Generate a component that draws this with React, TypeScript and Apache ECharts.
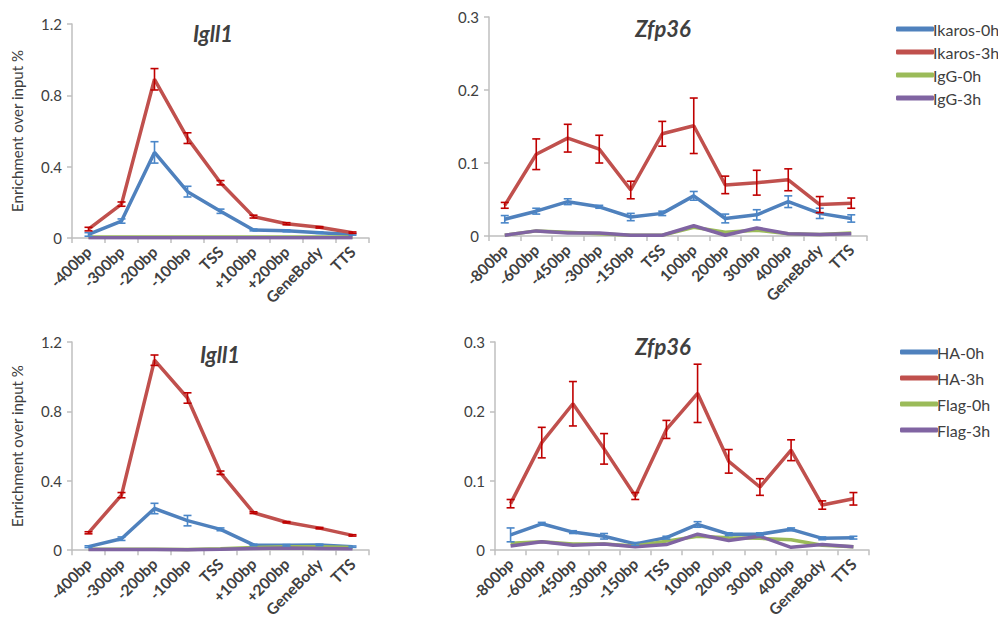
import React, { useEffect, useRef } from "react";
import * as echarts from "echarts";

const igllCats = ["-400bp", "-300bp", "-200bp", "-100bp", "TSS", "+100bp", "+200bp", "GeneBody", "TTS"];
const zfpCats = ["-800bp", "-600bp", "-450bp", "-300bp", "-150bp", "TSS", "100bp", "200bp", "300bp", "400bp", "GeneBody", "TTS"];

const topNames = ["Ikaros-0h", "Ikaros-3h", "IgG-0h", "IgG-3h"];
const botNames = ["HA-0h", "HA-3h", "Flag-0h", "Flag-3h"];

// Top-left: Igll1 (Ikaros / IgG)
const tlIk0 = [0.02, 0.095, 0.48, 0.26, 0.15, 0.045, 0.04, 0.03, 0.02];
const tlIk0Err = [0.01, 0.012, 0.06, 0.03, 0.012, 0.005, 0.005, 0.004, 0.004];
const tlIk3 = [0.05, 0.19, 0.89, 0.56, 0.31, 0.12, 0.08, 0.06, 0.03];
const tlIk3Err = [0.01, 0.012, 0.06, 0.03, 0.012, 0.008, 0.006, 0.004, 0.004];
const tlIg0 = [0.006, 0.006, 0.006, 0.006, 0.006, 0.006, 0.006, 0.006, 0.006];
const tlIg3 = [0.001, 0.001, 0.001, 0.001, 0.001, 0.001, 0.001, 0.001, 0.001];

// Top-right: Zfp36 (Ikaros / IgG)
const trIk0 = [0.023, 0.034, 0.047, 0.040, 0.026, 0.031, 0.055, 0.024, 0.029, 0.047, 0.031, 0.024];
const trIk0Err = [0.005, 0.004, 0.004, 0.002, 0.005, 0.003, 0.006, 0.006, 0.007, 0.008, 0.007, 0.005];
const trIk3 = [0.042, 0.112, 0.134, 0.119, 0.063, 0.14, 0.151, 0.07, 0.073, 0.077, 0.043, 0.045];
const trIk3Err = [0.004, 0.021, 0.019, 0.019, 0.012, 0.017, 0.038, 0.012, 0.017, 0.015, 0.011, 0.007];
const trIg0 = [0.001, 0.007, 0.005, 0.003, 0.001, 0.001, 0.012, 0.005, 0.008, 0.003, 0.002, 0.004];
const trIg3 = [0.001, 0.007, 0.004, 0.004, 0.001, 0.001, 0.014, 0.001, 0.011, 0.003, 0.002, 0.003];

// Bottom-left: Igll1 (HA / Flag)
const blHa0 = [0.02, 0.066, 0.24, 0.17, 0.12, 0.03, 0.028, 0.03, 0.02];
const blHa0Err = [0.005, 0.01, 0.03, 0.03, 0.008, 0.004, 0.004, 0.004, 0.004];
const blHa3 = [0.1, 0.317, 1.095, 0.877, 0.446, 0.216, 0.161, 0.127, 0.085];
const blHa3Err = [0.006, 0.015, 0.03, 0.03, 0.01, 0.005, 0.004, 0.004, 0.004];
const blFl0 = [0.005, 0.005, 0.005, 0.003, 0.008, 0.015, 0.02, 0.02, 0.015];
const blFl3 = [0.003, 0.003, 0.003, 0.002, 0.005, 0.01, 0.012, 0.01, 0.008];

// Bottom-right: Zfp36 (HA / Flag)
const brHa0 = [0.022, 0.038, 0.026, 0.02, 0.009, 0.018, 0.037, 0.023, 0.023, 0.03, 0.017, 0.018];
const brHa0Err = [0.01, 0.002, 0.002, 0.004, 0.002, 0.002, 0.004, 0.002, 0.002, 0.002, 0.002, 0.002];
const brHa3 = [0.067, 0.155, 0.211, 0.146, 0.078, 0.174, 0.226, 0.128, 0.091, 0.144, 0.065, 0.074];
const brHa3Err = [0.006, 0.022, 0.032, 0.022, 0.005, 0.013, 0.042, 0.017, 0.012, 0.015, 0.006, 0.009];
const brFl0 = [0.01, 0.012, 0.009, 0.009, 0.006, 0.013, 0.02, 0.018, 0.017, 0.015, 0.007, 0.005];
const brFl3 = [0.006, 0.012, 0.007, 0.009, 0.005, 0.008, 0.023, 0.014, 0.02, 0.004, 0.008, 0.005];

const BLUE = "#4F81BD";
const RED = "#C0504D";
const GREEN = "#9BBB59";
const PURPLE = "#8064A2";
const ERR_RED = "#C00000";
const ERR_BLUE = "#4A86C8";
const FONT = "Lato";
const TEXT = "#404040";

function lineSeries(name: string, data: number[], idx: number, color: string) {
  return {
    type: "line",
    name,
    data,
    xAxisIndex: idx,
    yAxisIndex: idx,
    symbol: "none",
    lineStyle: { color, width: 3.5 },
    itemStyle: { color },
    z: 3,
  };
}

function errSeries(name: string, vals: number[], errs: number[], idx: number, color: string) {
  return {
    type: "custom",
    name,
    xAxisIndex: idx,
    yAxisIndex: idx,
    z: 5,
    data: vals.map((v, i) => [i, v, errs[i]]),
    renderItem: (params: any, api: any) => {
      const x = api.value(0);
      const v = api.value(1);
      const e = api.value(2);
      const top = api.coord([x, v + e]);
      const bot = api.coord([x, Math.max(0, v - e)]);
      const w = 4;
      const st = { stroke: color, lineWidth: 1.6 };
      return {
        type: "group",
        children: [
          { type: "line", shape: { x1: top[0], y1: top[1], x2: bot[0], y2: bot[1] }, style: st },
          { type: "line", shape: { x1: top[0] - w, y1: top[1], x2: top[0] + w, y2: top[1] }, style: st },
          { type: "line", shape: { x1: bot[0] - w, y1: bot[1], x2: bot[0] + w, y2: bot[1] }, style: st },
        ],
      };
    },
  };
}

function xAxis(cats: string[], idx: number) {
  return {
    type: "category",
    gridIndex: idx,
    data: cats,
    boundaryGap: true,
    axisLine: { lineStyle: { color: "#BFBFBF", width: 1.5 } },
    axisTick: { show: true, length: 5, lineStyle: { color: "#BFBFBF", width: 1.5 } },
    axisLabel: { rotate: 45, color: TEXT, fontFamily: FONT, fontSize: 15.5, fontWeight: "bold", margin: 11, interval: 0 },
  };
}

function yAxis(idx: number, max: number, interval: number, withName: boolean) {
  return {
    type: "value",
    gridIndex: idx,
    min: 0,
    max,
    interval,
    splitLine: { show: false },
    axisLine: { show: true, lineStyle: { color: "#BFBFBF", width: 1.5 } },
    axisTick: { show: true, length: 5, lineStyle: { color: "#BFBFBF", width: 1.5 } },
    axisLabel: { color: TEXT, fontFamily: FONT, fontSize: 15, margin: 10 },
    name: withName ? "Enrichment over input %" : "",
    nameLocation: "middle",
    nameGap: 48,
    nameTextStyle: { color: TEXT, fontFamily: FONT, fontSize: 15 },
  };
}

export default function App() {
  const ref = useRef<HTMLDivElement>(null);
  useEffect(() => {
    document.body.style.margin = "0";
    if (!ref.current) return;
    const chart = echarts.init(ref.current, null, { renderer: "svg" });
    const titleStyle = {
      fontFamily: FONT,
      fontSize: 22,
      fontStyle: "italic",
      fontWeight: "bold",
      fill: TEXT,
      textAlign: "center",
      textVerticalAlign: "middle",
    };
    const legendText = { color: TEXT, fontFamily: FONT, fontSize: 16, padding: [0, 0, 0, -6], lineHeight: 18 };
    chart.setOption({
      animation: false,
      backgroundColor: "#ffffff",
      grid: [
        { left: 72, top: 24, width: 297, height: 214 },
        { left: 489, top: 17, width: 378, height: 219 },
        { left: 72, top: 342, width: 297, height: 210 },
        { left: 495, top: 342, width: 374, height: 210 },
      ],
      xAxis: [xAxis(igllCats, 0), xAxis(zfpCats, 1), xAxis(igllCats, 2), xAxis(zfpCats, 3)],
      yAxis: [yAxis(0, 1.2, 0.4, true), yAxis(1, 0.3, 0.1, false), yAxis(2, 1.2, 0.4, true), yAxis(3, 0.3, 0.1, false)],
      legend: [
        {
          data: topNames,
          orient: "vertical",
          left: 891,
          top: 15,
          itemWidth: 38,
          itemHeight: 5,
          itemGap: 5,
          icon: "roundRect",
          textStyle: legendText,
        },
        {
          data: botNames,
          orient: "vertical",
          left: 895,
          top: 338,
          itemWidth: 38,
          itemHeight: 5,
          itemGap: 8,
          icon: "roundRect",
          textStyle: legendText,
        },
      ],
      graphic: [
        { type: "text", x: 213, y: 33, style: { ...titleStyle, text: "Igll1" } },
        { type: "text", x: 663, y: 28, style: { ...titleStyle, text: "Zfp36" } },
        { type: "text", x: 220, y: 354, style: { ...titleStyle, text: "Igll1" } },
        { type: "text", x: 663, y: 346, style: { ...titleStyle, text: "Zfp36" } },
      ],
      series: [
        lineSeries(topNames[0], tlIk0, 0, BLUE),
        lineSeries(topNames[1], tlIk3, 0, RED),
        lineSeries(topNames[2], tlIg0, 0, GREEN),
        lineSeries(topNames[3], tlIg3, 0, PURPLE),
        errSeries(topNames[0], tlIk0, tlIk0Err, 0, ERR_BLUE),
        errSeries(topNames[1], tlIk3, tlIk3Err, 0, ERR_RED),

        lineSeries(topNames[0], trIk0, 1, BLUE),
        lineSeries(topNames[1], trIk3, 1, RED),
        lineSeries(topNames[2], trIg0, 1, GREEN),
        lineSeries(topNames[3], trIg3, 1, PURPLE),
        errSeries(topNames[0], trIk0, trIk0Err, 1, ERR_BLUE),
        errSeries(topNames[1], trIk3, trIk3Err, 1, ERR_RED),

        lineSeries(botNames[0], blHa0, 2, BLUE),
        lineSeries(botNames[1], blHa3, 2, RED),
        lineSeries(botNames[2], blFl0, 2, GREEN),
        lineSeries(botNames[3], blFl3, 2, PURPLE),
        errSeries(botNames[0], blHa0, blHa0Err, 2, ERR_BLUE),
        errSeries(botNames[1], blHa3, blHa3Err, 2, ERR_RED),

        lineSeries(botNames[0], brHa0, 3, BLUE),
        lineSeries(botNames[1], brHa3, 3, RED),
        lineSeries(botNames[2], brFl0, 3, GREEN),
        lineSeries(botNames[3], brFl3, 3, PURPLE),
        errSeries(botNames[0], brHa0, brHa0Err, 3, ERR_BLUE),
        errSeries(botNames[1], brHa3, brHa3Err, 3, ERR_RED),
      ],
    });
    return () => chart.dispose();
  }, []);
  return <div ref={ref} style={{ width: 998, height: 620 }} />;
}
